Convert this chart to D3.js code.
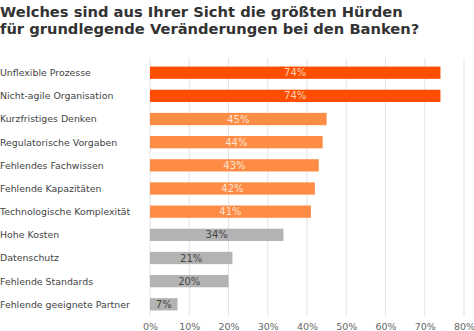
<!DOCTYPE html>
<html>
<head>
<meta charset="utf-8">
<script src="https://cdn.jsdelivr.net/npm/d3@7"></script>
<style>
  body { margin: 0; background: #fff; }
  text { font-family: "DejaVu Sans", Verdana, sans-serif; }
</style>
</head>
<body>
<div id="chart"></div>
<script>
// Data
const categories = [
  "Unflexible Prozesse",
  "Nicht-agile Organisation",
  "Kurzfristiges Denken",
  "Regulatorische Vorgaben",
  "Fehlendes Fachwissen",
  "Fehlende Kapazitäten",
  "Technologische Komplexität",
  "Hohe Kosten",
  "Datenschutz",
  "Fehlende Standards",
  "Fehlende geeignete Partner"
];
const values = [74, 74, 45, 44, 43, 42, 41, 34, 21, 20, 7];
const groups = ["top", "top", "mid", "mid", "mid", "mid", "mid", "low", "low", "low", "low"];
const xTicks = [0, 10, 20, 30, 40, 50, 60, 70, 80];
const titleLines = [
  "Welches sind aus Ihrer Sicht die größten Hürden",
  "für grundlegende Veränderungen bei den Banken?"
];

const colors = { top: "#ff4e00", mid: "#fe8c45", low: "#b3b3b3" };
const labelColors = { top: "#fcd2b8", mid: "#fde3d2", low: "#444" };

const W = 474, H = 331;
const margin = { top: 61, right: 10, bottom: 20, left: 150 };
const width = 464 - margin.left,
    height = 316 - margin.top;

var svg = d3.select("#chart").append("svg")
    .attr("width", W)
    .attr("height", H);

// Title
svg.selectAll(".title")
    .data(titleLines)
    .enter().append("text")
    .attr("x", 0)
    .attr("y", function(d, i) { return 17 + i * 17; })
    .text(function(d) { return d; })
    .style("font-size", "14.7px")
    .style("font-weight", "bold")
    .style("fill", "#333");

var g = svg.append("g")
    .attr("transform", "translate(" + margin.left + "," + margin.top + ")");

var x = d3.scaleLinear().domain([0, 80]).range([0, width]);
var y = d3.scaleBand().domain(categories).range([0, height]).paddingInner(0.47).paddingOuter(0.24);

// Grid lines
g.selectAll(".grid")
    .data(xTicks)
    .enter().append("line")
    .attr("x1", function(d) { return x(d); })
    .attr("x2", function(d) { return x(d); })
    .attr("y1", -3)
    .attr("y2", height)
    .style("stroke", "#e3e3e3")
    .style("stroke-width", 1);

// X axis
var xAxis = d3.axisBottom(x)
    .tickValues(xTicks)
    .tickFormat(function(d) { return d + "%"; })
    .tickSize(0)
    .tickPadding(7);

g.append("g")
    .attr("transform", "translate(0," + height + ")")
    .call(xAxis)
    .call(function(a) { a.select(".domain").remove(); })
    .selectAll("text")
    .style("font-family", "'DejaVu Sans', Verdana, sans-serif")
    .style("font-size", "9.5px")
    .style("fill", "#666");

// Bars
g.selectAll(".bar")
    .data(values)
    .enter().append("rect")
    .attr("x", x(0))
    .attr("y", function(d, i) { return y(categories[i]); })
    .attr("width", function(d) { return x(d) - x(0); })
    .attr("height", y.bandwidth())
    .style("fill", function(d, i) { return colors[groups[i]]; });

// Value labels
g.selectAll(".val")
    .data(values)
    .enter().append("text")
    .attr("text-anchor", "middle")
    .attr("x", function(d) { return x(d) / 2; })
    .attr("y", function(d, i) { return y(categories[i]) + y.bandwidth() / 2; })
    .attr("dy", "0.36em")
    .text(function(d) { return d + "%"; })
    .style("font-size", "10px")
    .style("fill", function(d, i) { return labelColors[groups[i]]; });

// Category labels
svg.selectAll(".cat")
    .data(categories)
    .enter().append("text")
    .attr("x", 0)
    .attr("y", function(d) { return margin.top + y(d) + y.bandwidth() / 2; })
    .attr("dy", "0.36em")
    .text(function(d) { return d; })
    .style("font-size", "9.4px")
    .style("fill", "#444");
</script>
</body>
</html>
